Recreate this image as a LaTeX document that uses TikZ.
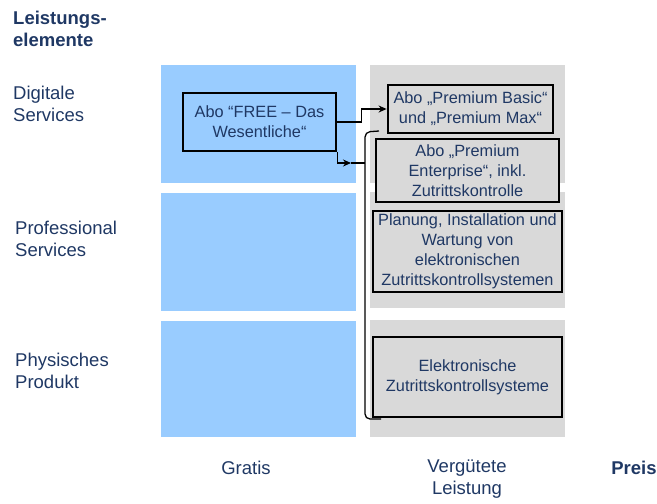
\documentclass[tikz,border=0pt]{standalone}
\usepackage{fontspec}
\setmainfont{Liberation Sans}
\usetikzlibrary{arrows.meta,positioning,calc}
\definecolor{ink}{HTML}{1F3864}
\definecolor{freefill}{HTML}{99CCFF}
\definecolor{paidfill}{HTML}{D9D9D9}
\tikzset{
  cell/.style  ={draw=none, inner sep=0pt, minimum width=195pt},
  freecell/.style={cell, fill=freefill},
  paidcell/.style={cell, fill=paidfill},
  offer/.style ={draw=black, line width=2.8pt, align=center, text=ink, inner sep=0pt,
                 font=\fontsize{16.3}{20}\selectfont},
  lbl/.style   ={text=ink, inner sep=0pt, align=left, anchor=west,
                 font=\fontsize{18.5}{22}\selectfont},
  hd/.style    ={lbl, font=\bfseries\fontsize{18.5}{22}\selectfont},
  ax/.style    ={text=ink, inner sep=0pt, align=center,
                 font=\fontsize{18.5}{22}\selectfont},
  fl/.style    ={draw=black, line width=1.6pt, -{Stealth[length=8pt,width=7pt]}},
  gl/.style    ={draw=black, line width=1.6pt},
  brl/.style   ={draw=black, line width=1.3pt, rounded corners=5pt},
}

\begin{document}
\begin{tikzpicture}[x=1pt,y=-1pt]
  \useasboundingbox (0,0) rectangle (657,504);
  \def\cf{258.5}  % gratis column centre
  \def\cp{467.5}  % paid column centre

  % ---------------- cells ----------------------------------------------------
  \foreach \n/\yc/\h in {1/124/118, 2/252/118, 3/379/116}
    \node[freecell, minimum height=\h pt] (f\n) at (\cf,\yc) {};
  \foreach \n/\yc/\h in {1/124/118, 2/250/116, 3/378.5/117}
    \node[paidcell, minimum height=\h pt] (p\n) at (\cp,\yc) {};

  % ---------------- offers ---------------------------------------------------
  \node[offer, fill=freefill, minimum width=153pt, minimum height=58pt] (free) at (259.5,122)
        {Abo “FREE – Das\\Wesentliche“};
  \node[offer, fill=paidfill, minimum width=165pt, minimum height=48pt] (basic) at (470.5,109)
        {Abo „Premium Basic“\\und „Premium Max“};
  \node[offer, fill=paidfill, minimum width=183pt, minimum height=63pt] (ent) at (467.5,170.5)
        {Abo „Premium\\Enterprise“, inkl.\\Zutrittskontrolle};
  \node[offer, fill=paidfill, minimum width=189pt, minimum height=81pt] (plan) at (\cp,251.5)
        {Planung, Installation und\\Wartung von\\elektronischen\\Zutrittskontrollsystemen};
  \node[offer, fill=paidfill, minimum width=189pt, minimum height=80pt] (prod) at (\cp,377)
        {Elektronische\\Zutrittskontrollsysteme};

  % ---------------- connectors -----------------------------------------------
  \draw[fl] (free.east) -- ++(24,0) |- (basic.west);
  \coordinate (tip)  at (351,163);
  \coordinate (join) at (365,163);
  \draw[fl] (free.south east) |- (tip);
  \draw[gl] (tip) -- (join);
  % bracket over all paid offers
  \coordinate (btop) at (379,131);
  \coordinate (bbot) at (381,419);
  \draw[brl] (btop) -- (365,132) -- (365,419) -- (bbot);

  % ---------------- labels ---------------------------------------------------
  \node[hd]  (kopf) at (13,29)  {Leistungs-\\elemente};
  \node[lbl] (dig)  at (13,104) {Digitale\\Services};
  \node[lbl] (prof) at (15,239) {Professional\\Services};
  \node[lbl] (phys) at (15,371) {Physisches\\Produkt};
  \node[ax]  (grat) at (246,468) {Gratis};
  \node[ax]  (verg) at (467,479) {Vergütete\\Leistung};
  \node[ax, font=\bfseries\fontsize{18.5}{22}\selectfont] (preis) at (634,468) {Preis};
\end{tikzpicture}
\end{document}
